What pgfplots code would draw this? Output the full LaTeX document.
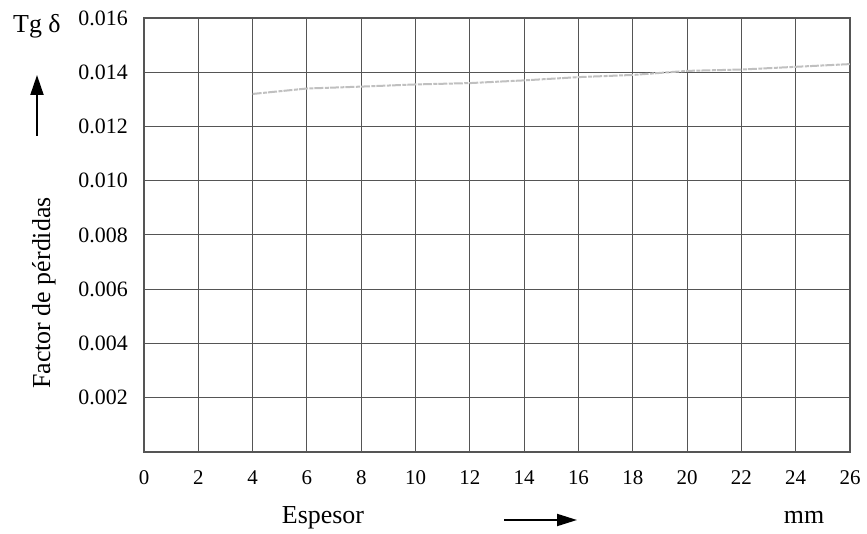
\documentclass[border=0pt]{standalone}
\usepackage{fontspec}
\setmainfont{Liberation Serif}
\usepackage{pgfplots}
\pgfplotsset{compat=1.18}
\usetikzlibrary{arrows.meta}
\definecolor{gridc}{HTML}{555555}
\definecolor{linec}{HTML}{C0C0C0}
\begin{document}
\begin{tikzpicture}[x=1bp,y=1bp]
\path (-144,-82) rectangle (723,452);
\begin{axis}[at={(0,0)}, anchor=south west, scale only axis,
  width=706bp, height=434bp,
  xmin=0, xmax=26, ymin=0, ymax=0.016,
  xtick={0,2,4,6,8,10,12,14,16,18,20,22,24,26},
  xticklabels={0,2,4,6,8,10,12,14,16,18,20,22,24,26},
  ytick={0.002,0.004,0.006,0.008,0.010,0.012,0.014,0.016},
  yticklabels={0.002,0.004,0.006,0.008,0.010,0.012,0.014,0.016},
  scaled y ticks=false,
  major tick length=0pt,
  grid=major,
  grid style={gridc, line width=1bp},
  axis line style={gridc, line width=1.2bp},
  xticklabel style={font=\fontsize{21}{24}\selectfont, inner sep=0pt, anchor=base, yshift=-33bp},
  yticklabel style={font=\fontsize{22}{26}\selectfont, inner sep=0pt, anchor=east, xshift=-16bp},
  clip=false]
\addplot[linec, line width=2bp, dash pattern=on 9bp off 1.5bp on 4bp off 1bp] coordinates {
(4,0.0132)(6,0.0134)(8,0.01347)(10,0.01355)(12,0.0136)(14,0.0137)(16,0.01382)(18,0.0139)(20,0.01405)(22,0.0141)(24,0.0142)(26,0.0143)};
\end{axis}
\node[anchor=base west, inner sep=0pt, font=\fontsize{26}{30}\selectfont] at (-131,419) {Tg δ};
\draw[line width=2bp, -{Triangle[length=20bp,width=13bp]}] (-107,316) -- (-107,377);
\node[rotate=90, inner sep=0pt, font=\fontsize{26}{30}\selectfont] at (-100,159) {Factor de pérdidas};
\node[anchor=base, inner sep=0pt, font=\fontsize{26}{30}\selectfont] at (179,-72) {Espesor};
\node[anchor=base, inner sep=0pt, font=\fontsize{26}{30}\selectfont] at (660,-72) {mm};
\draw[line width=2bp, -{Triangle[length=20bp,width=12bp]}] (360,-68) -- (433,-68);
\end{tikzpicture}
\end{document}
